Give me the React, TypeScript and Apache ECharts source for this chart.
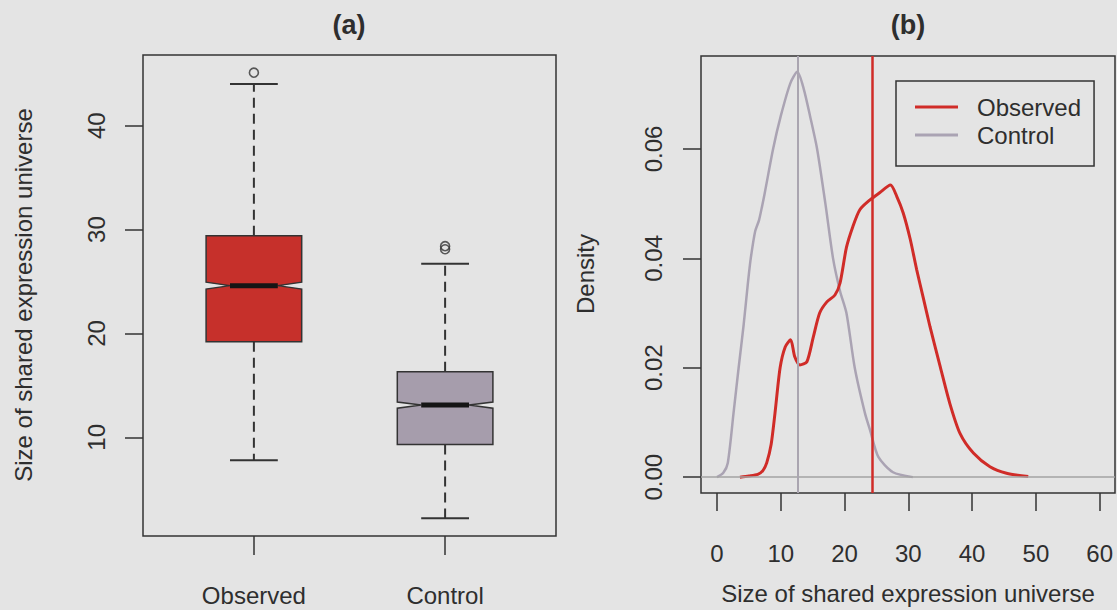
import React, { useEffect, useRef } from "react";
import * as echarts from "echarts";

// ---------- data ----------
const groups = ["Observed", "Control"];
const lowerWhisker = [7.8, 2.2];
const lowerHinge = [19.2, 9.3];
const medians = [24.6, 13.1];
const upperHinge = [29.4, 16.3];
const upperWhisker = [44.0, 26.7];
const notchHalf = [0.33, 0.3];
const outlierGroup = [1, 2, 2];
const outlierValue = [45.1, 28.1, 28.4];

const boxYTicks = [10, 20, 30, 40];
const densityXTicks = [0, 10, 20, 30, 40, 50, 60];
const densityYTicks = [0, 0.02, 0.04, 0.06];

const observedX = [3.6, 5, 6.4, 7.2, 7.8, 8.5, 9.1, 9.9, 10.7, 11.55, 12.2, 13.0, 14.1, 15.1, 16.1, 17.2, 18.5, 19.3, 20.3, 21.3, 22.4, 24.0, 25.5, 27.2, 28.2, 29.2, 30.3, 31.3, 32.3, 33.4, 35.0, 36.5, 38.1, 40.2, 42.8, 45.4, 48.8];
const observedY = [0, 0.0002, 0.0005, 0.0012, 0.0026, 0.006, 0.0117, 0.02, 0.0238, 0.0251, 0.022, 0.0205, 0.0211, 0.0256, 0.03, 0.032, 0.0333, 0.0355, 0.042, 0.0458, 0.0489, 0.0507, 0.052, 0.0534, 0.0513, 0.0483, 0.0435, 0.038, 0.033, 0.0275, 0.0202, 0.0135, 0.008, 0.0044, 0.0019, 0.0007, 0.0001];

const controlX = [0, 1, 1.7, 2.6, 3.4, 4.2, 4.9, 5.3, 6.0, 6.6, 7.5, 8.8, 10, 11.5, 12.6, 13.6, 14.6, 15.7, 17.0, 18.2, 19.3, 20.3, 21.6, 23.2, 24.0, 25.3, 27.6, 30.7];
const controlY = [0, 0.0008, 0.0026, 0.0117, 0.02, 0.028, 0.036, 0.04, 0.045, 0.047, 0.052, 0.06, 0.066, 0.072, 0.0741, 0.071, 0.066, 0.06, 0.05, 0.04, 0.034, 0.03, 0.02, 0.0117, 0.0086, 0.0037, 0.0009, 0];

const observedCentre = 24.3;
const controlCentre = 12.6;

// ---------- styles ----------
const FONT = "'Liberation Sans', Arial, sans-serif";
const INK = "#2e2e2e";
const BG = "#e4e4e4";
const RED = "#d02c28";
const GREY_LINE = "#aaa3b3";
const boxFill = ["#c6302b", "#a69dac"];

export default function App() {
  const ref = useRef<HTMLDivElement>(null);

  useEffect(() => {
    if (!ref.current) return;
    const chart = echarts.init(ref.current, undefined, { renderer: "svg" });

    const boxData = groups.map((_, i) => [
      i + 1,
      lowerWhisker[i],
      lowerHinge[i],
      medians[i],
      upperHinge[i],
      upperWhisker[i],
      notchHalf[i],
    ]);

    const option: any = {
      animation: false,
      backgroundColor: BG,
      textStyle: { fontFamily: FONT },
      grid: [
        { left: 143, top: 55, width: 413, height: 481, show: true, borderColor: "#333", borderWidth: 1.5, backgroundColor: "transparent" },
        { left: 701, top: 56, width: 414, height: 437, show: true, borderColor: "#333", borderWidth: 1.5, backgroundColor: "transparent" },
      ],
      xAxis: [
        {
          gridIndex: 0, type: "value", min: 0.42, max: 2.58,
          axisLine: { show: false, onZero: false },
          splitLine: { show: false },
          axisTick: { show: true, length: 19, customValues: [1, 2], lineStyle: { color: "#333", width: 1.5 } },
          axisLabel: { customValues: [1, 2], formatter: (v: number) => groups[Math.round(v) - 1], fontSize: 24, lineHeight: 24, margin: 47, color: INK, fontFamily: FONT },
        },
        {
          gridIndex: 1, type: "value", min: -2.5, max: 62.4,
          axisLine: { show: false, onZero: false },
          splitLine: { show: false },
          axisTick: { show: true, length: 18, customValues: densityXTicks, lineStyle: { color: "#333", width: 1.5 } },
          axisLabel: { customValues: densityXTicks, formatter: (v: number) => String(Math.round(v)), fontSize: 24, lineHeight: 24, margin: 48, color: INK, fontFamily: FONT },
        },
      ],
      yAxis: [
        {
          gridIndex: 0, type: "value", min: 0.5, max: 46.8,
          axisLine: { show: false, onZero: false },
          splitLine: { show: false },
          axisTick: { show: true, length: 18, customValues: boxYTicks, lineStyle: { color: "#333", width: 1.5 } },
          axisLabel: { customValues: boxYTicks, rotate: 90, fontSize: 24, lineHeight: 24, margin: 35, color: INK, fontFamily: FONT },
        },
        {
          gridIndex: 1, type: "value", min: -0.0029, max: 0.077,
          axisLine: { show: false, onZero: false },
          splitLine: { show: false },
          axisTick: { show: true, length: 18, customValues: densityYTicks, lineStyle: { color: "#333", width: 1.5 } },
          axisLabel: { customValues: densityYTicks, rotate: 90, formatter: (v: number) => v.toFixed(2), fontSize: 24, lineHeight: 24, margin: 36, color: INK, fontFamily: FONT },
        },
      ],
      legend: {
        left: 896, top: 81, orient: "vertical",
        padding: [14, 13, 19, 19],
        borderColor: "#333", borderWidth: 1.5,
        icon: "rect", itemWidth: 43, itemHeight: 3, itemGap: 4,
        textStyle: { fontSize: 24, lineHeight: 24, color: INK, fontFamily: FONT, padding: [0, 0, 0, 14] },
        data: ["Observed", "Control"],
        selectedMode: false,
      },
      graphic: [
        { type: "text", x: 349, y: 25, style: { text: "(a)", font: `bold 27px ${FONT}`, fill: INK, textAlign: "center", textVerticalAlign: "middle" } },
        { type: "text", x: 908, y: 25, style: { text: "(b)", font: `bold 27px ${FONT}`, fill: INK, textAlign: "center", textVerticalAlign: "middle" } },
        { type: "text", x: 23, y: 295, rotation: Math.PI / 2, style: { text: "Size of shared expression universe", font: `24px ${FONT}`, fill: INK, textAlign: "center", textVerticalAlign: "middle" } },
        { type: "text", x: 585, y: 274, rotation: Math.PI / 2, style: { text: "Density", font: `24px ${FONT}`, fill: INK, textAlign: "center", textVerticalAlign: "middle" } },
        { type: "text", x: 908, y: 593, style: { text: "Size of shared expression universe", font: `24px ${FONT}`, fill: INK, textAlign: "center", textVerticalAlign: "middle" } },
      ],
      series: [
        {
          type: "custom",
          name: "boxes",
          xAxisIndex: 0, yAxisIndex: 0,
          data: boxData,
          encode: { x: 0, y: [1, 5] },
          renderItem: (params: any, api: any) => {
            const xc = api.value(0);
            const lw = api.value(1), q1 = api.value(2), med = api.value(3), q3 = api.value(4), uw = api.value(5), nh = api.value(6);
            const cx = api.coord([xc, med])[0];
            const xl = api.coord([xc - 0.25, med])[0];
            const xr = api.coord([xc + 0.25, med])[0];
            const hw = (xr - xl) / 2;
            const capW = hw / 2;
            const Y = (v: number) => api.coord([xc, v])[1];
            const stroke = { stroke: "#333", lineWidth: 2 };
            const fill = boxFill[params.dataIndex];
            return {
              type: "group",
              children: [
                { type: "line", shape: { x1: cx, y1: Y(q3), x2: cx, y2: Y(uw) }, style: { ...stroke, lineDash: [10, 6] } },
                { type: "line", shape: { x1: cx, y1: Y(q1), x2: cx, y2: Y(lw) }, style: { ...stroke, lineDash: [10, 6] } },
                { type: "line", shape: { x1: cx - capW, y1: Y(uw), x2: cx + capW, y2: Y(uw) }, style: stroke },
                { type: "line", shape: { x1: cx - capW, y1: Y(lw), x2: cx + capW, y2: Y(lw) }, style: stroke },
                {
                  type: "polygon",
                  shape: {
                    points: [
                      [xl, Y(q1)], [xl, Y(med - nh)], [cx - hw / 2, Y(med)], [xl, Y(med + nh)], [xl, Y(q3)],
                      [xr, Y(q3)], [xr, Y(med + nh)], [cx + hw / 2, Y(med)], [xr, Y(med - nh)], [xr, Y(q1)],
                    ],
                  },
                  style: { fill, stroke: "#333", lineWidth: 1.5 },
                },
                { type: "line", shape: { x1: cx - hw / 2, y1: Y(med), x2: cx + hw / 2, y2: Y(med) }, style: { stroke: "#151515", lineWidth: 5 } },
              ],
            };
          },
          z: 2,
        },
        {
          type: "scatter",
          name: "outliers",
          xAxisIndex: 0, yAxisIndex: 0,
          data: outlierValue.map((v, i) => [outlierGroup[i], v]),
          symbol: "circle",
          symbolSize: 9,
          itemStyle: { color: "transparent", borderColor: "#333", borderWidth: 1.6 },
          z: 3,
        },
        {
          type: "line",
          name: "Control",
          xAxisIndex: 1, yAxisIndex: 1,
          data: controlX.map((x, i) => [x, controlY[i]]),
          symbol: "none",
          smooth: 0.25,
          color: GREY_LINE,
          lineStyle: { color: GREY_LINE, width: 2.5 },
          markLine: {
            silent: true, symbol: ["none", "none"], label: { show: false },
            data: [
              { yAxis: 0, lineStyle: { color: "#a3a3a3", width: 1.5, type: "solid" } },
              { xAxis: controlCentre, lineStyle: { color: "#aaa5b0", width: 2, type: "solid" } },
            ],
          },
        },
        {
          type: "line",
          name: "Observed",
          xAxisIndex: 1, yAxisIndex: 1,
          data: observedX.map((x, i) => [x, observedY[i]]),
          symbol: "none",
          smooth: 0.25,
          color: RED,
          lineStyle: { color: RED, width: 3 },
          markLine: {
            silent: true, symbol: ["none", "none"], label: { show: false },
            data: [{ xAxis: observedCentre, lineStyle: { color: RED, width: 2.5, type: "solid" } }],
          },
        },
      ],
    };

    chart.setOption(option);
    return () => chart.dispose();
  }, []);

  return (
    <div
      ref={ref}
      style={{ position: "absolute", left: 0, top: 0, width: 1117, height: 610, background: BG }}
    />
  );
}
